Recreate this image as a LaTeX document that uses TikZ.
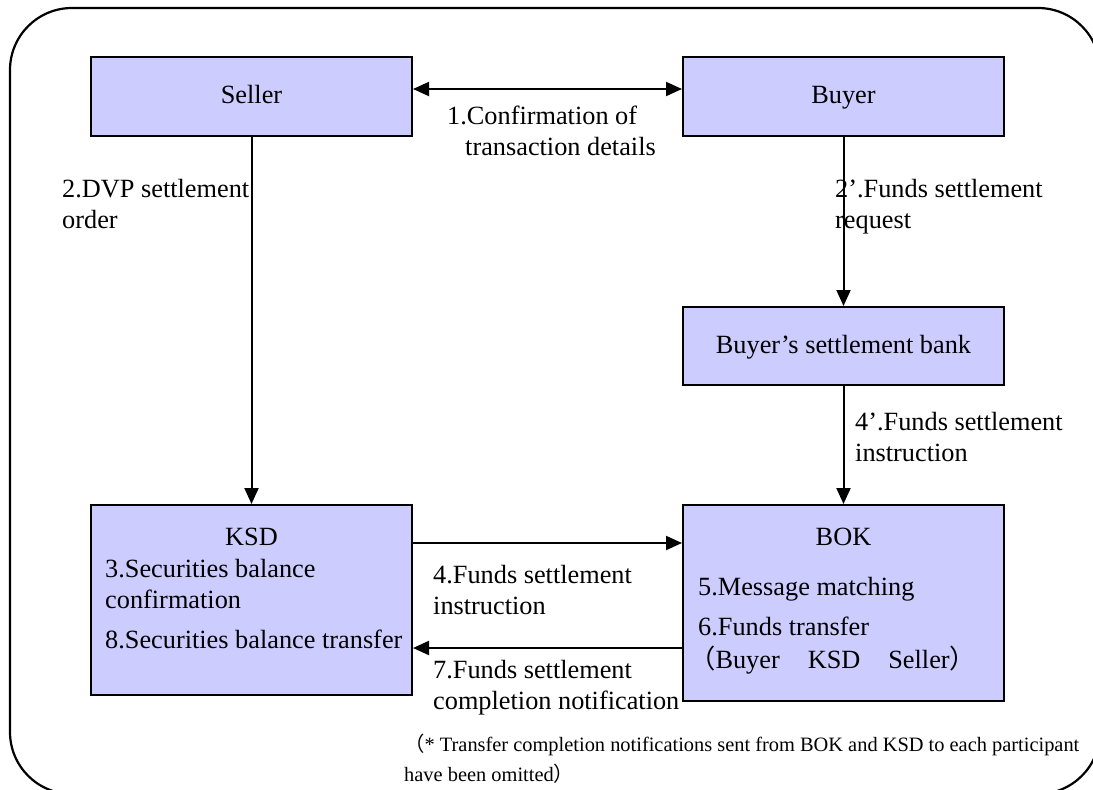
\documentclass[tikz,border=0pt]{standalone}
\usepackage{fontspec}
\setmainfont{Liberation Serif}
\newfontfamily\cjk{Noto Sans CJK JP}
\usetikzlibrary{arrows.meta}
\definecolor{boxfill}{RGB}{204,204,255}
\tikzset{
  boxnode/.style={draw=black, line width=2pt, fill=boxfill, rectangle, inner sep=0pt, minimum width=321pt, text height=19pt, text depth=5pt},
  conn/.style={line width=2pt, -{Triangle[length=16pt,width=14pt]}},
  lbl/.style={anchor=base west, inner sep=0pt, align=left},
  ttl/.style={anchor=base, inner sep=0pt},
}
\begin{document}
\begin{tikzpicture}[x=1pt,y=-1pt,font=\fontsize{26.3}{30.5}\selectfont]
\useasboundingbox (0,0) rectangle (1093,790);
\clip (0,0) rectangle (1093,790);
\draw[line width=2.2pt, rounded corners=62pt] (10,8) rectangle (1100,794);

% boxes
\node[boxnode, minimum height=79pt] (seller) at (251.5,96.5) {Seller};
\node[boxnode, minimum height=79pt] (buyer) at (843.5,96.5) {Buyer};
\node[boxnode, minimum height=78pt] (bank) at (843.5,346) {Buyer’s settlement bank};
\node[boxnode, minimum height=190pt] (ksd) at (251.5,600) {};
\node[boxnode, minimum height=196pt] (bok) at (843.5,603) {};

% texts inside KSD
\node[ttl] (ksdt) at (251.5,545) {KSD};
\node[lbl] (ksd3) at (105,608) {3.Securities balance\\confirmation};
\node[lbl] (ksd8) at (105,648) {8.Securities balance transfer};

% texts inside BOK
\node[ttl] (bokt) at (843.5,545) {BOK};
\node[lbl] (bok5) at (698,595) {5.Message matching};
\node[lbl] (bok6) at (698,635) {6.Funds transfer};
\node[lbl] (bok6b) at (689,668) {{\cjk （}Buyer\hspace{28pt}KSD\hspace{28pt}Seller{\cjk ）}};

% connectors
\draw[line width=2pt, {Triangle[length=16pt,width=14pt]}-{Triangle[length=16pt,width=14pt]}] (seller.east |- 0,89) -- (buyer.west |- 0,89);
\draw[conn] (seller.south) -- (ksd.north);
\draw[conn] (buyer.south) -- (bank.north);
\draw[conn] (bank.south) -- (bok.north);
\draw[conn] (ksd.east |- 0,543) -- (bok.west |- 0,543);
\draw[conn] (bok.west |- 0,648) -- (ksd.east |- 0,648);

% connector labels
\node[lbl] (l1) at (447,155) {1.Confirmation of\\\hspace*{18pt}transaction details};
\node[lbl] (l2) at (62,228) {2.DVP settlement\\order};
\node[lbl] (l2b) at (835,228) {2’.Funds settlement\\request};
\node[lbl] (l4b) at (855,461) {4’.Funds settlement\\instruction};
\node[lbl] (l4) at (433,614) {4.Funds settlement\\instruction};
\node[lbl] (l7) at (433,709) {7.Funds settlement\\completion notification};

% footnote
\node[lbl, font=\fontsize{20.4}{29.5}\selectfont] (fn) at (404,781) {{\cjk （}* Transfer completion notifications sent from BOK and KSD to each participant\\have been omitted{\cjk ）}};
\end{tikzpicture}
\end{document}
